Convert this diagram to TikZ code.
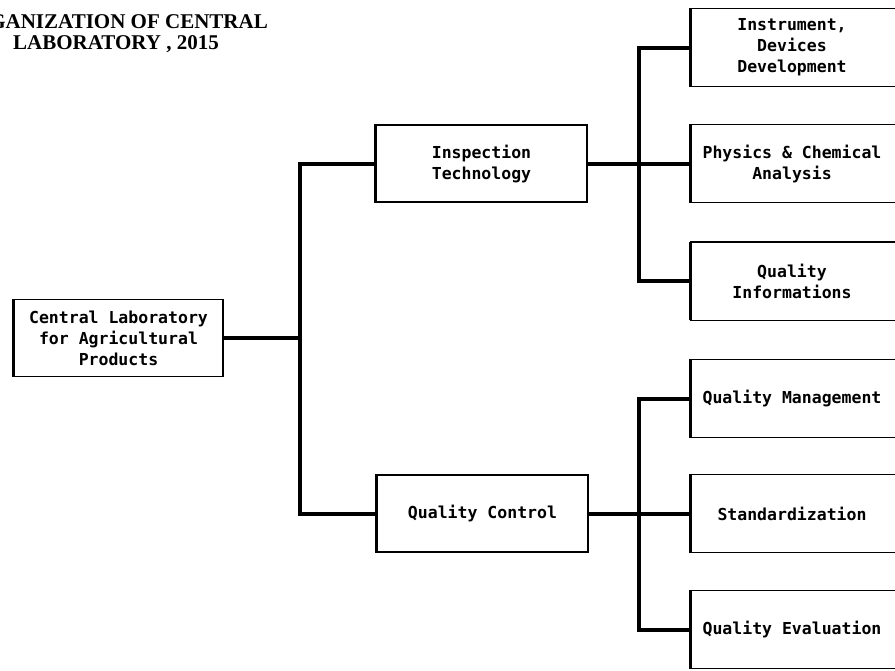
\documentclass[tikz,border=0pt]{standalone}
\usepackage{fontspec}
\setmainfont{Liberation Serif}
\newfontfamily\boxfont{DejaVu Sans Mono}
\begin{document}
\begin{tikzpicture}[x=1pt,y=-1pt,
  unit/.style={draw, line width=1.3pt, inner sep=0pt, align=center,
    font=\boxfont\bfseries\fontsize{16.5}{21}\selectfont, minimum height=77pt},
  openunit/.style={unit, draw=none, minimum width=202pt},
  link/.style={line width=4pt, line join=miter},
  leftedge/.style={line width=3pt},
  heading/.style={font=\bfseries\fontsize{21}{24}\selectfont, inner sep=0pt}]
\useasboundingbox (0,0) rectangle (895,670);
\fill[white] (0,0) rectangle (895,670);
\clip (0,0) rectangle (895,670);

% heading
\node[heading, anchor=base east] (t1) at (268,28) {ORGANIZATION OF CENTRAL};
\node[heading, anchor=base west] (t2) at (13,49) {LABORATORY , 2015};

% left and middle units
\node[unit, minimum width=209pt] (clab) at (118.5,338) {Central Laboratory\\for Agricultural\\Products};
\node[unit, minimum width=211pt] (insp) at (481.5,163.5) {Inspection\\Technology};
\node[unit, minimum width=211pt] (qc) at (482.5,513.5) {Quality Control};

% right-hand units (running off the right edge)
\node[openunit] (idd) at (792,47.5) {Instrument,\\Devices\\Development};
\node[openunit] (pca) at (792,163.5) {Physics \& Chemical\\Analysis};
\node[openunit] (qi)  at (792,281) {Quality\\Informations};
\node[openunit] (qm)  at (792,398.5) {Quality Management};
\node[openunit] (std) at (792,513.5) {Standardization};
\node[openunit] (qe)  at (792,629.5) {Quality Evaluation};
\foreach \n in {idd,pca,qi,qm,std,qe}
  \draw[line width=1.3pt] ([xshift=30pt]\n.north east) -| (\n.south west) -- ([xshift=30pt]\n.south east);

% thick left borders
\foreach \n in {clab,insp,qc,idd,pca,qi,qm,std,qe}
  \draw[leftedge] (\n.north west) -- (\n.south west);

% junctions
\coordinate (j1) at (300,338);
\coordinate (j2) at (639,163.5);
\coordinate (j3) at (639,513.5);

% connectors
\draw[link] (clab.east) -- (j1);
\draw[link] (insp.west) -| (j1) |- (qc.west);
\draw[link] (insp.east) -- (j2) -- (pca.west);
\draw[link] (idd.west) -| (j2) |- (qi.west);
\draw[link] (qc.east) -- (j3) -- (std.west);
\draw[link] (qm.west) -| (j3) |- (qe.west);
\end{tikzpicture}
\end{document}
